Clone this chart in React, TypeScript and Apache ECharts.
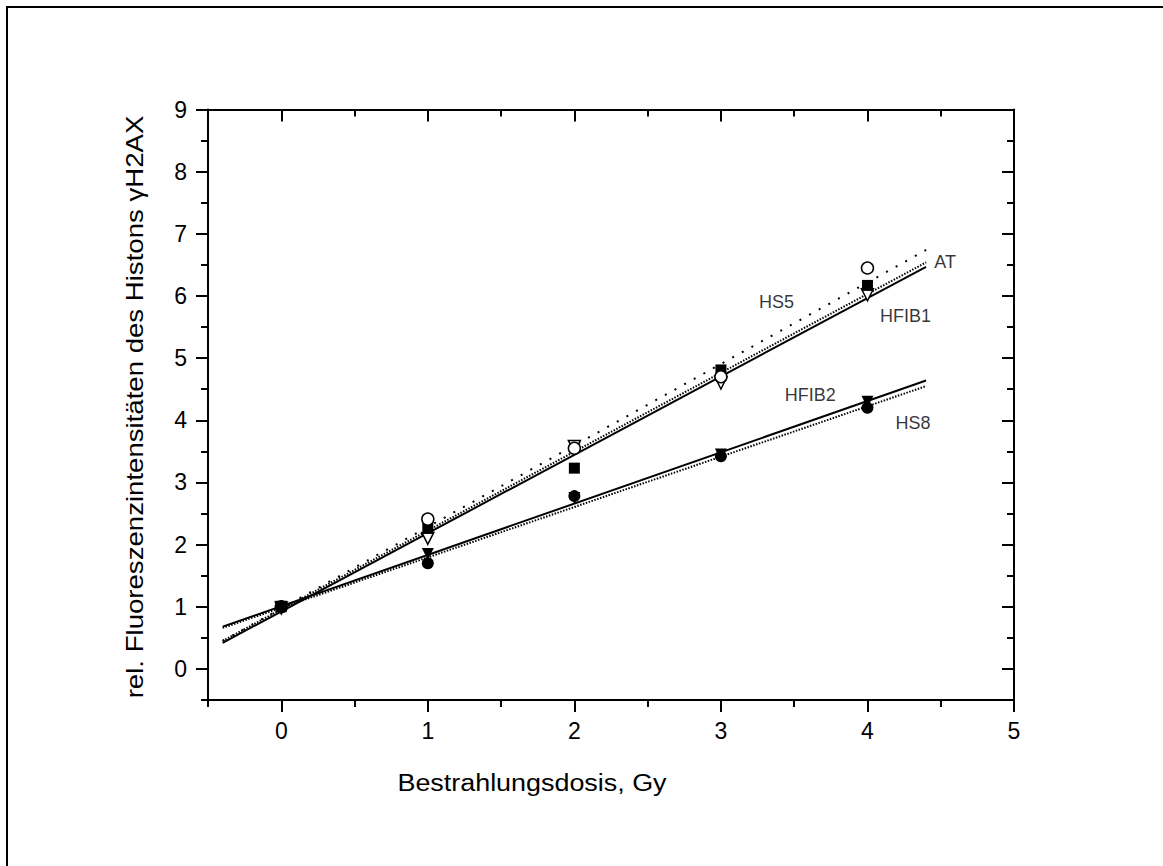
import React, { useEffect, useRef } from "react";
import * as echarts from "echarts";

// Dose values (Gy)
const doses = [0, 1, 2, 3, 4];
// Relative fluorescence intensities of γH2AX per cell line
const atValues = [1.0, 2.41, 3.55, 4.7, 6.45];
const hs5Values = [1.0, 2.26, 3.23, 4.81, 6.17];
const hfib1Values = [0.98, 2.1, 3.58, 4.6, 6.02];
const hfib2Values = [1.0, 1.85, 2.75, 3.45, 4.3];
const hs8Values = [1.0, 1.7, 2.78, 3.42, 4.2];

// Linear fit end points (x from -0.4 to 4.4)
const fitX = [-0.4, 4.4];
const atFit = [0.45, 6.74];
const hs5Fit = [0.45, 6.54];
const hfib1Fit = [0.42, 6.47];
const hfib2Fit = [0.68, 4.64];
const hs8Fit = [0.66, 4.55];

// Tick values
const xMajor = [0, 1, 2, 3, 4, 5];
const xMinor = [-0.5, 0.5, 1.5, 2.5, 3.5, 4.5];
const yMajor = [0, 1, 2, 3, 4, 5, 6, 7, 8, 9];
const yMinor = [-0.5, 0.5, 1.5, 2.5, 3.5, 4.5, 5.5, 6.5, 7.5, 8.5];

// Curve labels (data coordinates)
const labelNames = ["AT", "HS5", "HFIB1", "HFIB2", "HS8"];
const labelX = [4.53, 3.38, 4.26, 3.61, 4.31];
const labelY = [6.55, 5.9, 5.68, 4.4, 3.95];

const FONT = '"Liberation Sans", Arial, Helvetica, sans-serif';

export default function App() {
  const ref = useRef<HTMLDivElement>(null);
  useEffect(() => {
    if (!ref.current) return;
    const chart = echarts.init(ref.current, null, { renderer: "svg" });
    const gridPos = { left: 208, top: 109.5, right: 149, bottom: 166 };
    const majorTick = (inside: boolean, vals: number[]) => ({
      show: true,
      inside,
      length: 12,
      customValues: vals,
      lineStyle: { color: "#000", width: 2 },
    });
    const minorTick = (inside: boolean, vals: number[]) => ({
      show: true,
      inside,
      length: 7,
      customValues: vals,
      lineStyle: { color: "#000", width: 2 },
    });
    const axisLine = { show: true, onZero: false, lineStyle: { color: "#000", width: 2 } };
    const noLine = { show: false, onZero: false };
    const label = (vals: number[], margin: number) => ({
      show: true,
      customValues: vals,
      color: "#000",
      fontSize: 23,
      fontFamily: FONT,
      margin,
    });
    const xBase = { type: "value", min: -0.5, max: 5, splitLine: { show: false } };
    const yBase = { type: "value", min: -0.5, max: 9, splitLine: { show: false } };

    const line = (data: number[], type: any) => ({
      type: "line",
      xAxisIndex: 0,
      yAxisIndex: 0,
      data: fitX.map((x, i) => [x, data[i]]),
      symbol: "none",
      silent: true,
      z: 2,
      lineStyle: { color: "#000", width: 2, type },
    });
    const scatter = (name: string, data: number[], symbol: string, filled: boolean, rotate = 0, size = 12) => ({
      name,
      type: "scatter",
      xAxisIndex: 0,
      yAxisIndex: 0,
      data: doses.map((x, i) => [x, data[i]]),
      symbol,
      symbolSize: size,
      symbolRotate: rotate,
      z: 3,
      itemStyle: filled
        ? { color: "#000", borderColor: "#000", borderWidth: 0, opacity: 1 }
        : { color: "#fff", borderColor: "#000", borderWidth: 1.5, opacity: 1 },
    });

    chart.setOption({
      animation: false,
      backgroundColor: "#fff",
      grid: [
        { ...gridPos, containLabel: false },
        { ...gridPos, containLabel: false },
      ],
      xAxis: [
        { ...xBase, gridIndex: 0, position: "bottom", axisLine, axisTick: majorTick(false, xMajor), axisLabel: label(xMajor, 19) },
        { ...xBase, gridIndex: 0, position: "top", axisLine, axisTick: majorTick(true, xMajor), axisLabel: { show: false } },
        { ...xBase, gridIndex: 1, position: "bottom", axisLine: noLine, axisTick: minorTick(false, xMinor), axisLabel: { show: false } },
        { ...xBase, gridIndex: 1, position: "top", axisLine: noLine, axisTick: minorTick(true, xMinor), axisLabel: { show: false } },
      ],
      yAxis: [
        { ...yBase, gridIndex: 0, position: "left", axisLine, axisTick: majorTick(false, yMajor), axisLabel: label(yMajor, 21) },
        { ...yBase, gridIndex: 0, position: "right", axisLine, axisTick: majorTick(true, yMajor), axisLabel: { show: false } },
        { ...yBase, gridIndex: 1, position: "left", axisLine: noLine, axisTick: minorTick(false, yMinor), axisLabel: { show: false } },
        { ...yBase, gridIndex: 1, position: "right", axisLine: noLine, axisTick: minorTick(true, yMinor), axisLabel: { show: false } },
      ],
      series: [
        line(atFit, [2, 9]),
        line(hs5Fit, [1.5, 1.5]),
        line(hfib1Fit, "solid"),
        line(hfib2Fit, "solid"),
        line(hs8Fit, [1.5, 1.5]),
        scatter("HFIB1", hfib1Values, "triangle", false, 180, 12),
        scatter("HS5", hs5Values, "rect", true, 0, 11),
        scatter("AT", atValues, "circle", false, 0, 12),
        scatter("HS8", hs8Values, "circle", true, 0, 12),
        scatter("HFIB2", hfib2Values, "triangle", true, 180, 12),
        {
          type: "scatter",
          xAxisIndex: 0,
          yAxisIndex: 0,
          symbolSize: 0,
          silent: true,
          z: 4,
          data: labelNames.map((n, i) => ({ name: n, value: [labelX[i], labelY[i]] })),
          label: {
            show: true,
            position: "inside",
            formatter: (p: any) => p.name,
            color: "#000",
            fontSize: 18,
            fontFamily: FONT,
          },
        },
      ],
      graphic: [
        {
          type: "rect",
          shape: { x: 7, y: 7, width: 1200, height: 900 },
          style: { fill: "none", stroke: "#000", lineWidth: 2 },
          silent: true,
        },
        {
          type: "text",
          x: 532,
          y: 783,
          scaleX: 1.17,
          style: {
            text: "Bestrahlungsdosis, Gy",
            fontSize: 23,
            fontFamily: FONT,
            fill: "#000",
            textAlign: "center",
            textVerticalAlign: "middle",
            align: "center",
            verticalAlign: "middle",
          },
        },
        {
          type: "text",
          x: 135,
          y: 407,
          rotation: Math.PI / 2,
          scaleX: 1.2,
          style: {
            text: "rel. Fluoreszenzintensitäten des Histons γH2AX",
            fontSize: 23,
            fontFamily: FONT,
            fill: "#000",
            textAlign: "center",
            textVerticalAlign: "middle",
            align: "center",
            verticalAlign: "middle",
          },
        },
      ],
    });
    return () => chart.dispose();
  }, []);
  return (
    <div
      ref={ref}
      style={{ position: "fixed", left: 0, top: 0, width: 1163, height: 866, background: "#fff" }}
    />
  );
}
